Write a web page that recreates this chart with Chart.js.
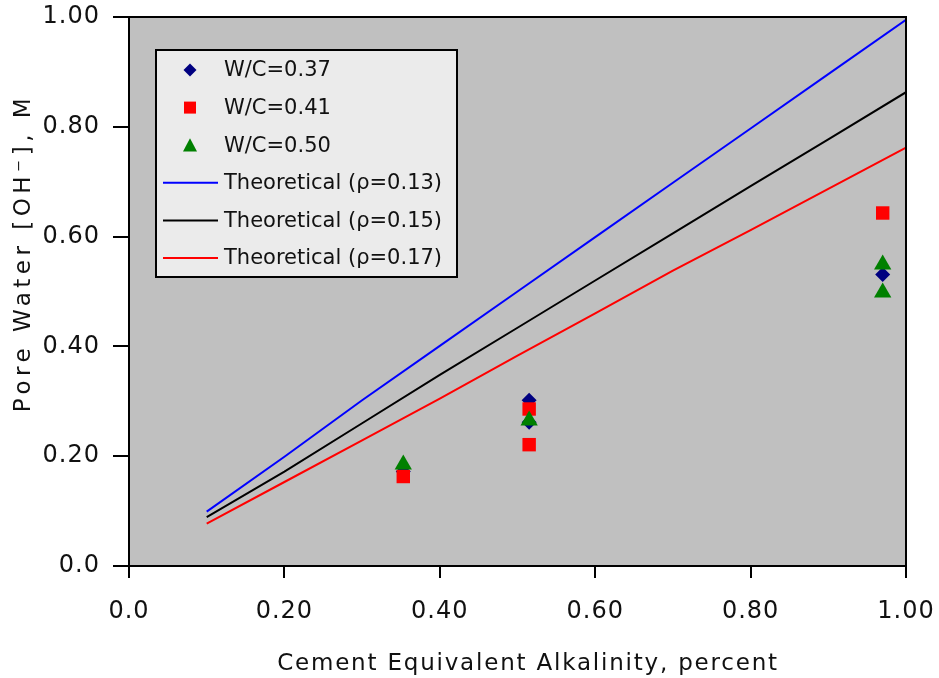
<!DOCTYPE html>
<html><head><meta charset="utf-8">
<script src="https://cdn.jsdelivr.net/npm/chart.js@4.4.0/dist/chart.umd.min.js"></script>
<style>html,body{margin:0;padding:0;background:#fff;}#wrap{width:939px;height:678px;}</style>
</head><body><div id="wrap"><canvas id="c" width="939" height="678"></canvas></div>
<script>
// ---- data ----
const xTickLabels = ["0.0", "0.20", "0.40", "0.60", "0.80", "1.00"];
const xTickValues = [0, 0.2, 0.4, 0.6, 0.8, 1.0];
const yTickLabels = ["0.0", "0.20", "0.40", "0.60", "0.80", "1.00"];
const yTickValues = [0, 0.2, 0.4, 0.6, 0.8, 1.0];

const wc037X = [0.353, 0.515, 0.515, 0.970];
const wc037Y = [0.172, 0.302, 0.262, 0.531];
const wc041X = [0.353, 0.515, 0.515, 0.970];
const wc041Y = [0.163, 0.286, 0.221, 0.643];
const wc050X = [0.353, 0.515, 0.970, 0.970];
const wc050Y = [0.185, 0.265, 0.549, 0.498];

const theoX   = [0.1, 0.2, 0.3, 0.4, 0.5, 0.6, 0.7, 0.8, 0.9, 1.0];
const theo013 = [0.099, 0.199, 0.302, 0.401, 0.500, 0.599, 0.698, 0.797, 0.896, 0.995];
const theo015 = [0.089, 0.172, 0.260, 0.348, 0.434, 0.520, 0.606, 0.692, 0.777, 0.863];
const theo017 = [0.077, 0.153, 0.229, 0.305, 0.383, 0.460, 0.538, 0.612, 0.687, 0.762];

const xTitle = "Cement Equivalent Alkalinity, percent";
const yTitle = "Pore Water [OH\u207B], M";

const pts = (xs, ys) => xs.map((x, i) => ({x: x, y: ys[i]}));
const FONT = "'DejaVu Sans', Verdana, sans-serif";
const TXT = '#111';

const datasets = [
  {label: 'W/C=0.37', data: pts(wc037X, wc037Y), pointStyle: 'rectRot', pointRadius: 7.5,
   backgroundColor: '#000080', borderColor: '#000080', borderWidth: 0, showLine: false, order: 3},
  {label: 'W/C=0.41', data: pts(wc041X, wc041Y), pointStyle: 'rect', pointRadius: 9.5,
   backgroundColor: '#ff0000', borderColor: '#ff0000', borderWidth: 0, showLine: false, order: 2},
  {label: 'W/C=0.50', data: pts(wc050X, wc050Y), pointStyle: 'triangle', pointRadius: 10,
   backgroundColor: '#008000', borderColor: '#008000', borderWidth: 0, showLine: false, order: 1},
  {label: 'Theoretical (\u03C1=0.13)', data: pts(theoX, theo013), showLine: true, pointRadius: 0,
   borderColor: '#0000ff', backgroundColor: '#0000ff', borderWidth: 2, tension: 0, order: 10},
  {label: 'Theoretical (\u03C1=0.15)', data: pts(theoX, theo015), showLine: true, pointRadius: 0,
   borderColor: '#000000', backgroundColor: '#000000', borderWidth: 2, tension: 0, order: 10},
  {label: 'Theoretical (\u03C1=0.17)', data: pts(theoX, theo017), showLine: true, pointRadius: 0,
   borderColor: '#ff0000', backgroundColor: '#ff0000', borderWidth: 2, tension: 0, order: 10}
];

function drawMarker(ctx, style, x, y, r, color) {
  ctx.fillStyle = color;
  ctx.beginPath();
  if (style === 'rectRot') {
    ctx.moveTo(x, y - r); ctx.lineTo(x + r, y); ctx.lineTo(x, y + r); ctx.lineTo(x - r, y);
  } else if (style === 'rect') {
    ctx.rect(x - r, y - r, 2 * r, 2 * r);
  } else if (style === 'triangle') {
    ctx.moveTo(x, y - r); ctx.lineTo(x + r, y + r * 0.9); ctx.lineTo(x - r, y + r * 0.9);
  }
  ctx.closePath();
  ctx.fill();
}

const framePlugin = {
  id: 'frame',
  beforeDraw(chart) {
    const {ctx, chartArea: a} = chart;
    ctx.save();
    ctx.fillStyle = '#ffffff';
    ctx.fillRect(0, 0, chart.width, chart.height);
    ctx.fillStyle = '#c0c0c0';
    ctx.fillRect(a.left, a.top, a.right - a.left, a.bottom - a.top);
    ctx.restore();
    ctx.letterSpacing = '1px';
  },
  afterDraw(chart) {
    const {ctx, chartArea: a} = chart;
    ctx.save();
    ctx.strokeStyle = '#000'; ctx.lineWidth = 2;
    ctx.strokeRect(a.left, a.top, a.right - a.left, a.bottom - a.top);
    // axis titles
    ctx.fillStyle = TXT;
    ctx.font = "23px " + FONT;
    ctx.textAlign = 'center'; ctx.textBaseline = 'alphabetic';
    ctx.letterSpacing = '1.8px';
    ctx.fillText(xTitle, 528, 670);
    ctx.letterSpacing = '4.5px';
    ctx.translate(30, 253);
    ctx.rotate(-Math.PI / 2);
    ctx.fillText(yTitle, 0, 0);
    ctx.restore();

    // legend box
    ctx.save();
    ctx.letterSpacing = '0px';
    const L = 156, T = 50, R = 457, B = 277;
    ctx.fillStyle = '#ebebeb';
    ctx.fillRect(L, T, R - L, B - T);
    ctx.strokeStyle = '#000'; ctx.lineWidth = 2;
    ctx.strokeRect(L, T, R - L, B - T);
    ctx.font = "21px " + FONT;
    ctx.textAlign = 'left'; ctx.textBaseline = 'middle';
    chart.data.datasets.forEach((ds, i) => {
      const y = 70 + i * 37.6;
      if (ds.showLine) {
        ctx.strokeStyle = ds.borderColor; ctx.lineWidth = 2;
        ctx.beginPath(); ctx.moveTo(163, y); ctx.lineTo(218, y); ctx.stroke();
      } else {
        const r = ds.pointStyle === 'rect' ? 6 : (ds.pointStyle === 'triangle' ? 7 : 6.5);
        drawMarker(ctx, ds.pointStyle, 190, y, r, ds.backgroundColor);
      }
      ctx.fillStyle = TXT;
      ctx.fillText(ds.label, 224, y + 1);
    });
    ctx.restore();
  }
};

new Chart(document.getElementById('c'), {
  type: 'scatter',
  data: {datasets: datasets},
  options: {
    responsive: false, animation: false, devicePixelRatio: 1,
    layout: {padding: {left: 0, top: 17, right: 33, bottom: 0}},
    plugins: {legend: {display: false}, tooltip: {enabled: false}, title: {display: false}},
    scales: {
      x: {
        type: 'linear', min: 0, max: 1,
        afterBuildTicks: s => { s.ticks = xTickValues.map(v => ({value: v})); },
        afterFit: s => { s.height = 112; s.paddingLeft = 0; s.paddingRight = 0; },
        ticks: {callback: (v, i) => xTickLabels[i], font: {family: FONT, size: 24}, color: TXT, padding: 19, maxRotation: 0},
        grid: {display: true, drawOnChartArea: false, drawTicks: true, tickLength: 12, color: '#000', lineWidth: 2},
        border: {display: true, color: '#000', width: 2}
      },
      y: {
        type: 'linear', min: 0, max: 1,
        afterBuildTicks: s => { s.ticks = yTickValues.map(v => ({value: v})); },
        afterFit: s => { s.width = 129; s.paddingTop = 0; s.paddingBottom = 0; },
        ticks: {callback: (v, i) => yTickLabels[i], font: {family: FONT, size: 24}, color: TXT, padding: 13},
        grid: {display: true, drawOnChartArea: false, drawTicks: true, tickLength: 16, color: '#000', lineWidth: 2},
        border: {display: true, color: '#000', width: 2}
      }
    }
  },
  plugins: [framePlugin]
});
</script>
</body></html>
